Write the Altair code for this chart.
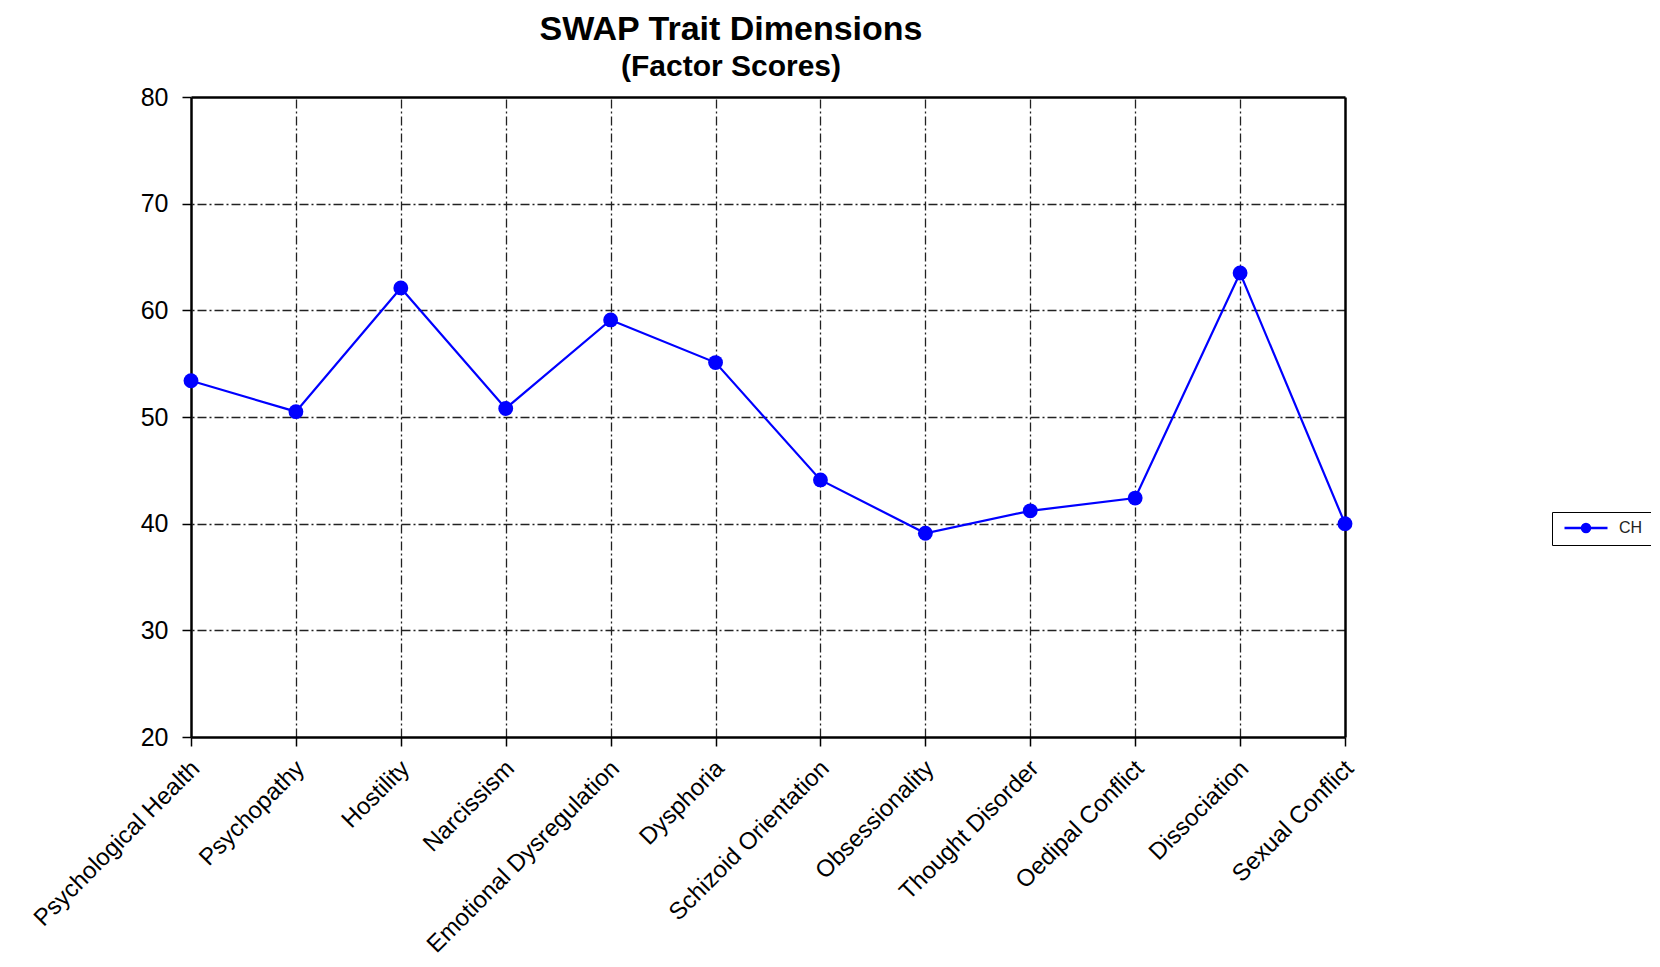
import altair as alt
import pandas as pd

categories = [
    "Psychological Health", "Psychopathy", "Hostility", "Narcissism",
    "Emotional Dysregulation", "Dysphoria", "Schizoid Orientation",
    "Obsessionality", "Thought Disorder", "Oedipal Conflict",
    "Dissociation", "Sexual Conflict",
]
values = [53.4, 50.5, 62.1, 50.8, 59.1, 55.1, 44.1, 39.1, 41.2, 42.4, 63.5, 40.0]
series_name = "CH"
y_ticks = [20, 30, 40, 50, 60, 70, 80]
y_grid = [30, 40, 50, 60, 70]

df = pd.DataFrame({"trait": categories, "score": values, "series": [series_name] * len(categories)})

FONT = "Liberation Sans"
BLUE = "#0000FF"
GRID = dict(grid=True, gridColor="#222222", gridDash=[9, 3, 2, 3], gridWidth=1.3)

# legend symbol: short line with a dot (unit scale = sqrt(size)/2 = 5 px)
legend_path = "M-4.3,0L4.3,0M0.8,0A0.8,0.8,0,1,1,-0.8,0A0.8,0.8,0,1,1,0.8,0Z"

x_scale = alt.Scale(type="point", padding=0)
y_scale = alt.Scale(domain=[20, 80], nice=False, zero=False)

x_main = alt.X(
    "trait:N", sort=categories, scale=x_scale,
    axis=alt.Axis(
        title=None, orient="bottom", grid=False, labelAngle=-45, labelAlign="right",
        labelBaseline="top", labelFontSize=24, labelFont=FONT, labelColor="black",
        labelPadding=10, labelOffset=-4, labelLimit=600, labelOverlap=False,
        tickSize=9, tickColor="black", tickWidth=1.5,
        domainColor="black", domainWidth=2.5,
    ),
)
y_main = alt.Y(
    "score:Q", scale=y_scale,
    axis=alt.Axis(
        title=None, orient="left", grid=False, values=y_ticks, labelFontSize=25,
        labelFont=FONT, labelColor="black", labelPadding=14, tickSize=9,
        tickColor="black", tickWidth=1.5, domainColor="black", domainWidth=2.5,
    ),
)
x_frame = alt.X(
    "trait:N", sort=categories, scale=x_scale,
    axis=alt.Axis(
        title=None, orient="top", labels=False, ticks=False, values=categories[1:-1],
        domainColor="black", domainWidth=2.5, **GRID,
    ),
)
y_frame = alt.Y(
    "score:Q", scale=y_scale,
    axis=alt.Axis(
        title=None, orient="right", labels=False, ticks=False, values=y_grid,
        domainColor="black", domainWidth=2.5, **GRID,
    ),
)
color = alt.Color(
    "series:N",
    scale=alt.Scale(domain=[series_name], range=[BLUE]),
    legend=alt.Legend(
        title=None, orient="none", legendX=1361, legendY=415,
        symbolType=legend_path, symbolSize=100, symbolStrokeWidth=2.5,
        symbolFillColor=BLUE, symbolStrokeColor=BLUE, symbolOffset=18,
        labelFont=FONT, labelFontSize=16, labelColor="#222222", labelOffset=25,
        strokeColor="black", fillColor="white", padding=8, cornerRadius=0,
    ),
)

line = alt.Chart(df).mark_line(strokeWidth=2.2).encode(x=x_main, y=y_main, color=color)
points = alt.Chart(df).mark_point(filled=True, size=220, opacity=1).encode(
    x=x_frame, y=y_frame, color=color
)

chart = (
    alt.layer(line, points)
    .resolve_axis(x="independent", y="independent")
    .properties(
        width=1154,
        height=640,
        title=alt.TitleParams(
            text="SWAP Trait Dimensions",
            subtitle="(Factor Scores)",
            font=FONT, fontSize=34, fontWeight="bold", color="black",
            subtitleFont=FONT, subtitleFontSize=30, subtitleFontWeight="bold",
            subtitleColor="black", subtitlePadding=5,
            anchor="middle", dx=-37, offset=3,
        ),
        autosize=alt.AutoSizeParams(type="none"),
        padding={"left": 183, "top": 89, "right": 306, "bottom": 222},
    )
    .configure_view(stroke=None)
    .configure(background="white")
)

chart.save("out.html", embed_options={"renderer": "svg", "actions": False})
